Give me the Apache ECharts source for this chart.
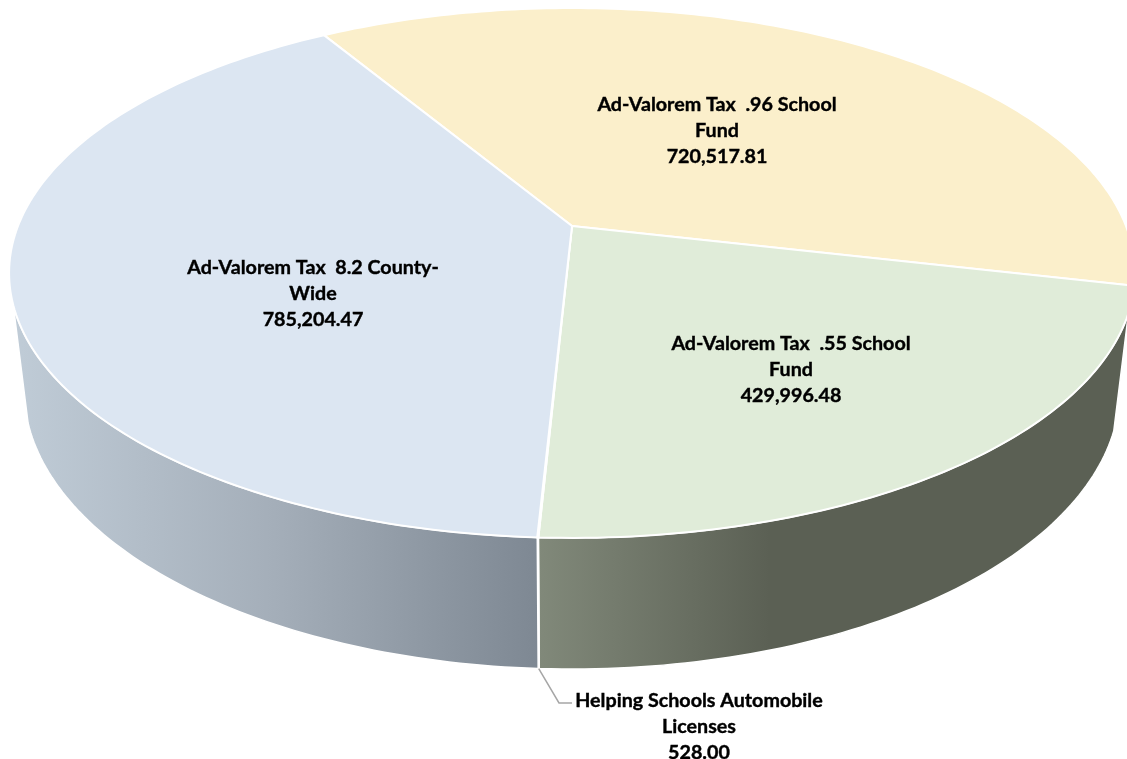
<!DOCTYPE html>
<html>
<head>
<meta charset="utf-8">
<style>
  html,body{margin:0;padding:0;background:#fff;}
  #main{width:1127px;height:759px;}
</style>
<script src="https://cdn.jsdelivr.net/npm/echarts@6/dist/echarts.min.js"></script>
</head>
<body>
<div id="main"></div>
<script>
var categories=[
  "Ad-Valorem Tax  .96 School\nFund",
  "Ad-Valorem Tax  .55 School\nFund",
  "Helping Schools Automobile\nLicenses",
  "Ad-Valorem Tax  8.2 County-\nWide"
];
var values=[720517.81,429996.48,528.00,785204.47];
var topColors=["#FBEFCB","#E0ECD9","#D0D0D0","#DCE6F2"];
var labelPos=[[717,131],[791,370],[699,727],[313,294]];

// tilted disc: perspective map of a circle, apex is where the slices meet
var startAngle=-31.05,apexX=572,persp=0.1773;
var topRim={y:226,radX:554,radY:256.6};
var lowRim={y:339.4,radX:539.3,radY:271.2};
var wallFrom=108.6,wallTo=253;
var total=values.reduce(function(a,b){return a+b},0);

function angles(i){
  var sum=0;
  for(var k=0;k<i;k++)sum+=values[k];
  return [startAngle+sum/total*360,startAngle+(sum+values[i])/total*360];
}
function rimPoint(deg,rim){
  var t=deg*Math.PI/180,u=Math.sin(t),v=-Math.cos(t),d=1-persp*v;
  return [apexX+rim.radX*u/d,rim.y+rim.radY*v/d];
}
function arc(a,b,rim){
  var pts=[],n=Math.max(1,Math.ceil(Math.abs(b-a)));
  for(var i=0;i<=n;i++)pts.push(rimPoint(a+(b-a)*i/n,rim));
  return pts;
}
function wallFill(i){
  if(i==3)return new echarts.graphic.LinearGradient(12,0,538,0,[
    {offset:0,color:"#C0CCD7"},{offset:0.5,color:"#A4AEB9"},{offset:1,color:"#7E8893"}],true);
  if(i==1)return new echarts.graphic.LinearGradient(538,0,770,0,[
    {offset:0,color:"#81897A"},{offset:1,color:"#5B6054"}],true);
  return "#8A8A8A";
}
function renderWall(params){
  var i=params.dataIndex,a=angles(i);
  var from=Math.max(a[0],wallFrom),to=Math.min(a[1],wallTo);
  if(to<=from)return {type:"group",children:[]};
  var pts=arc(from,to,topRim).concat(arc(to,from,lowRim));
  return {type:"polygon",shape:{points:pts},
    style:{fill:wallFill(i),stroke:"#fff",lineWidth:1.5}};
}
function renderFace(params,api){
  var i=params.dataIndex,a=angles(i);
  var pts=[[apexX,topRim.y]].concat(arc(a[0],a[1],topRim));
  var text=categories[i]+"\n"+api.value(1).toLocaleString("en-US",{minimumFractionDigits:2,maximumFractionDigits:2});
  return {type:"group",children:[
    {type:"polygon",shape:{points:pts},style:{fill:topColors[i],stroke:"#fff",lineWidth:2}},
    {type:"text",x:labelPos[i][0],y:labelPos[i][1],z2:10,
      style:{text:text,align:"center",verticalAlign:"middle",fill:"#000",
        stroke:"#000",lineWidth:0.4,font:"bold 19.7px Lato",lineHeight:26}}
  ]};
}
function renderLeader(params){
  if(params.dataIndex!=2)return {type:"group",children:[]};
  var a=angles(2),s=rimPoint((a[0]+a[1])/2,lowRim);
  return {type:"polyline",shape:{points:[s,[559,703],[572,703]]},
    style:{fill:null,stroke:"#A6A6A6",lineWidth:1.5}};
}

var seriesData=values.map(function(v,i){return [i,v]});
var myChart=echarts.init(document.getElementById("main"));
myChart.setOption({
  animation:false,
  backgroundColor:"#fff",
  series:[
    {type:"custom",coordinateSystem:"none",z:1,silent:true,data:seriesData,renderItem:renderWall},
    {type:"custom",coordinateSystem:"none",z:2,silent:true,data:seriesData,renderItem:renderLeader},
    {type:"custom",coordinateSystem:"none",z:3,silent:true,data:seriesData,renderItem:renderFace}
  ]
});
</script>
</body>
</html>
